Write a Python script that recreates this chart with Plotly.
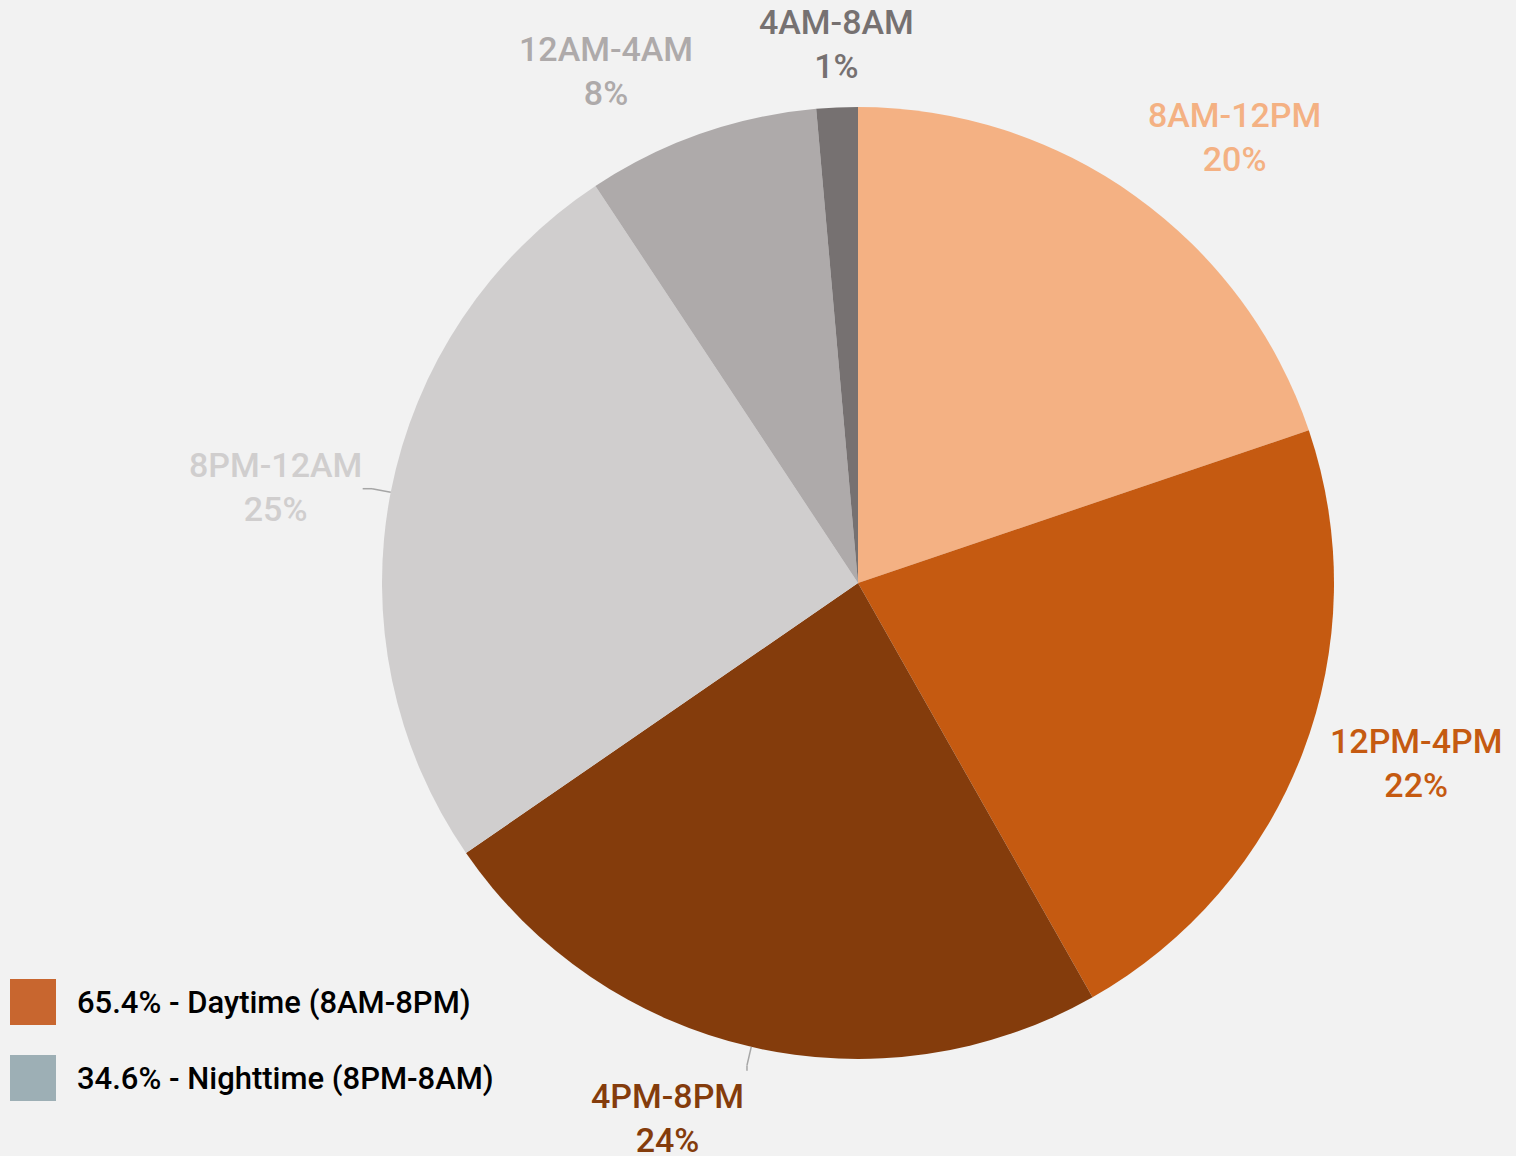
import math
import plotly.graph_objects as go

labels = ["8AM-12PM", "12PM-4PM", "4PM-8PM", "8PM-12AM", "12AM-4AM", "4AM-8AM"]
values = [19.8, 22.0, 23.6, 25.3, 7.9, 1.4]
colors = ["#F4B183", "#C55A11", "#843C0C", "#D0CECE", "#AEAAAA", "#767171"]
leader_for = ["4PM-8PM", "8PM-12AM"]

legend_labels = ["65.4% - Daytime (8AM-8PM)", "34.6% - Nighttime (8PM-8AM)"]
legend_colors = ["#C8662F", "#9DAFB5"]

W, H = 1516, 1156
cx, cy, r = 858, 583, 476
FONT = "Roboto"

fig = go.Figure()
fig.add_trace(go.Pie(
    labels=labels, values=values, sort=False, direction="clockwise", rotation=0,
    marker=dict(colors=colors, line=dict(width=0)),
    textinfo="none",
    showlegend=False,
    hoverinfo="label+percent",
    domain=dict(x=[(cx - r) / W, (cx + r) / W], y=[(H - cy - r) / H, (H - cy + r) / H]),
))

shapes = []
annotations = []

# data labels placed outside the pie along each slice's mid angle
total = sum(values)
cum = 0.0
for lab, val, col in zip(labels, values, colors):
    mid = (cum + val / 2) / total * 2 * math.pi
    cum += val
    s, c = math.sin(mid), math.cos(mid)
    R = r * (1.043 if c > 0.5 else 1.06)
    px, py = cx + R * s, cy - R * c
    side = abs(s) > 0.3
    xa = "left" if s > 0.2 else ("right" if s < -0.2 else "center")
    ya = "bottom" if c > 0.5 else ("top" if c < -0.5 else "middle")
    pct = round(val / total * 100)
    annotations.append(dict(
        xref="paper", yref="paper", x=px / W, y=1 - py / H,
        text=f"{lab}<br>{pct}%", showarrow=False, xanchor=xa, yanchor=ya,
        align="center", borderpad=0,
        font=dict(size=34, color=col, family=FONT, weight=500),
    ))
    if lab in leader_for:
        ex, ey = cx + r * s, cy - r * c
        bx, by = cx + r * 1.04 * s, cy - r * 1.04 * c
        if side:
            fx, fy = px, by
        else:
            fx, fy = bx, py - 4
        for (x0, y0, x1, y1) in [(ex, ey, bx, by), (bx, by, fx, fy)]:
            shapes.append(dict(type="line", xref="paper", yref="paper",
                               x0=x0 / W, y0=1 - y0 / H, x1=x1 / W, y1=1 - y1 / H,
                               line=dict(color="#A6A6A6", width=1.5)))

for i, (lab, col) in enumerate(zip(legend_labels, legend_colors)):
    top = 979 + i * 76
    shapes.append(dict(type="rect", xref="paper", yref="paper",
                       x0=10 / W, x1=56 / W, y0=(H - top - 46) / H, y1=(H - top) / H,
                       fillcolor=col, line=dict(width=0)))
    annotations.append(dict(xref="paper", yref="paper", x=75 / W, y=(H - top - 23) / H,
                            text=lab, showarrow=False, xanchor="left", yanchor="middle",
                            font=dict(size=31, color="#000000", family=FONT, weight=500)))

fig.update_layout(
    width=W, height=H,
    margin=dict(l=0, r=0, t=0, b=0),
    paper_bgcolor="#F2F2F2", plot_bgcolor="#F2F2F2",
    shapes=shapes, annotations=annotations,
)
fig.write_html("out.html", config={"displayModeBar": False},
               post_script="document.body.style.margin='0';document.body.style.overflow='hidden';")
